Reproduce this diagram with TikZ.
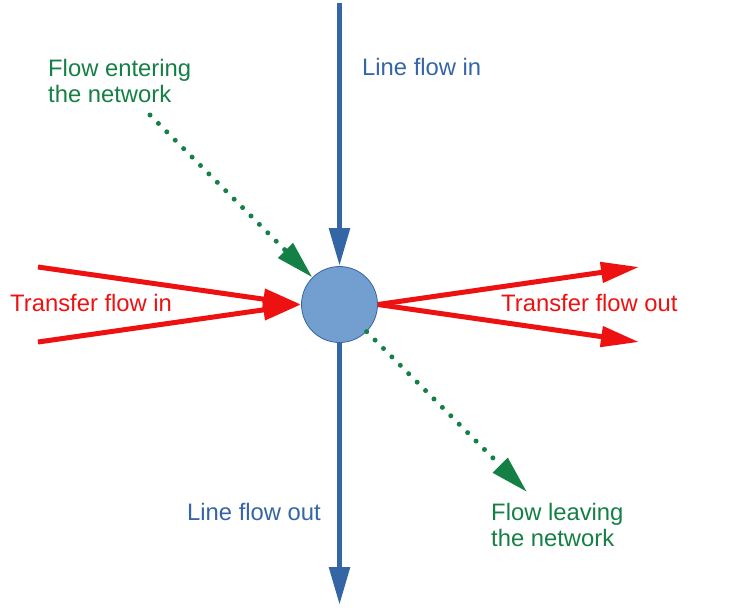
\documentclass[tikz,border=0pt]{standalone}
\usepackage{fontspec}
\setsansfont{Liberation Sans}
\usetikzlibrary{arrows.meta}
\definecolor{lineBlue}{HTML}{3465A4}
\definecolor{hubBlue}{HTML}{729FCF}
\definecolor{transRed}{HTML}{EE1111}
\definecolor{netGreen}{HTML}{158046}
\tikzset{
    font=\sffamily\fontsize{23.8}{26}\selectfont,
    >={Triangle[length=38pt, width=20pt]},
    % Node
    hub/.style={circle, draw=lineBlue, fill=hubBlue, line width=0.8pt,
                minimum size=76pt, inner sep=0pt},
    % Flows
    lineFlow/.style={->, line width=5.5pt, lineBlue},
    transferFlow/.style={->, line width=5pt, transRed},
    netFlow/.style={->, line width=5pt, netGreen, line cap=round,
                    dash pattern=on 0pt off 11.9pt},
    % Labels
    lbl/.style={anchor=base west, inner sep=0pt, align=left},
    lblBlue/.style={lbl, text=lineBlue},
    lblRed/.style={lbl, text=transRed},
    lblGreen/.style={lbl, text=netGreen}
}

\begin{document}
\begin{tikzpicture}[x=1pt, y=-1pt]
\useasboundingbox (0,0) rectangle (743,611);

\node[hub] (hub) at (339.5,304.5) {};

% free ends
\coordinate (lineIn) at (339.5,3);
\coordinate (lineOut) at (339.5,605);
\coordinate (transInA) at (38,267);
\coordinate (transInB) at (38,342);
\coordinate (transOutA) at (639,267);
\coordinate (transOutB) at (639,342);
\coordinate (netIn) at (150,115);
\coordinate (netOut) at (527,492);

\draw[lineFlow] (lineIn) -- (hub);
\draw[lineFlow] (hub) -- (lineOut);
\draw[transferFlow] (transInA) -- (hub.west);
\draw[transferFlow] (transInB) -- (hub.west);
\draw[transferFlow] (hub.east) -- (transOutA);
\draw[transferFlow] (hub.east) -- (transOutB);
\draw[netFlow] (netIn) -- (hub);
\draw[netFlow] (hub) -- (netOut);

\node[lblBlue] (lblLineIn) at (362,75) {Line flow in};
\node[lblBlue] (lblLineOut) at (187,520) {Line flow out};
\node[lblRed] (lblTransIn) at (10,311) {Transfer flow in};
\node[lblRed] (lblTransOut) at (501,311) {Transfer flow out};
\node[lblGreen] (lblNetIn) at (48,102) {Flow entering\\the network};
\node[lblGreen] (lblNetOut) at (491,546) {Flow leaving\\the network};

\end{tikzpicture}
\end{document}
